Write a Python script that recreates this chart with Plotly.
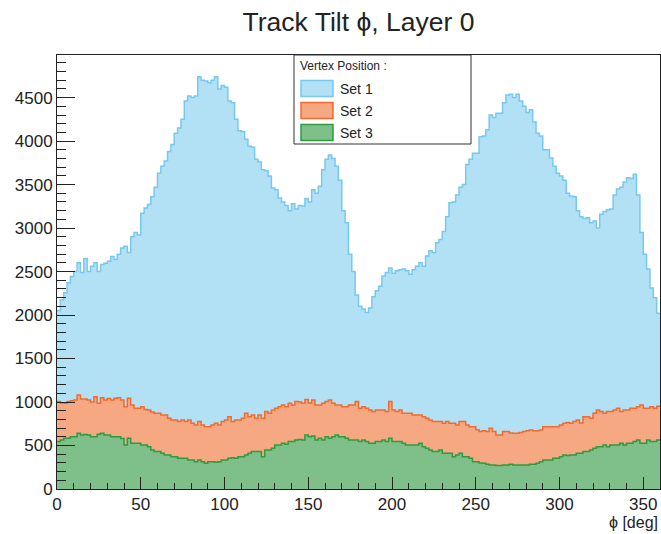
import plotly.graph_objects as go

# bin edges (2 degree bins, 0..360)
bin_edges = list(range(0, 362, 2))

set1 = [
    2050, 2175, 2255, 2370, 2443, 2500, 2600, 2490, 2650, 2500, 2560, 2600, 2500, 2580, 2597, 2620, 2673, 2640, 2700, 2770,
    2790, 2720, 2900, 2950, 2920, 3170, 3230, 3270, 3360, 3470, 3630, 3710, 3770, 3880, 3960, 4090, 4150, 4250, 4460, 4520,
    4500, 4520, 4740, 4700, 4690, 4670, 4700, 4740, 4600, 4640, 4620, 4460, 4440, 4250, 4120, 4110, 4020, 3940, 3930, 3790,
    3760, 3671, 3660, 3600, 3460, 3440, 3345, 3300, 3260, 3200, 3280, 3220, 3260, 3250, 3340, 3300, 3440, 3400, 3480, 3670,
    3790, 3840, 3800, 3710, 3550, 3200, 3060, 2700, 2500, 2230, 2100, 2070, 2030, 2080, 2210, 2280, 2330, 2450, 2490, 2540,
    2480, 2510, 2520, 2530, 2510, 2470, 2520, 2560, 2600, 2560, 2680, 2740, 2720, 2830, 2870, 2960, 3130, 3290, 3300, 3380,
    3470, 3500, 3730, 3790, 3860, 3860, 4050, 4060, 4130, 4300, 4270, 4320, 4320, 4440, 4530, 4540, 4500, 4540, 4460, 4400,
    4330, 4360, 4220, 4090, 4060, 3900, 3900, 3805, 3710, 3630, 3600, 3550, 3400, 3370, 3360, 3200, 3130, 3110, 3120, 3060,
    3080, 3000, 3160, 3190, 3210, 3220, 3380, 3450, 3470, 3530, 3580, 3570, 3620, 3380, 2950, 2700, 2530, 2310, 2200, 2020,
]

set2 = [
    1005, 990, 986, 1005, 1015, 1024, 1082, 1036, 1036, 1024, 1000, 1060, 986, 1050, 1024, 1040, 1024, 1043, 1050, 1024,
    947, 1043, 967, 928, 928, 947, 915, 909, 885, 871, 871, 852, 852, 813, 794, 794, 775, 794, 775, 794,
    756, 737, 775, 737, 715, 717, 737, 756, 737, 775, 794, 832, 775, 794, 794, 813, 871, 832, 852, 813,
    852, 813, 890, 871, 909, 928, 947, 967, 947, 986, 967, 1005, 1000, 986, 1030, 990, 1024, 967, 967, 986,
    1005, 1024, 986, 967, 967, 947, 947, 967, 967, 1005, 928, 947, 928, 909, 890, 909, 909, 909, 890, 1005,
    909, 890, 909, 871, 871, 871, 852, 852, 852, 832, 813, 794, 775, 775, 775, 756, 775, 756, 756, 737,
    775, 775, 737, 717, 717, 680, 660, 670, 660, 698, 660, 621, 620, 660, 660, 645, 641, 641, 650, 660,
    670, 679, 670, 670, 679, 717, 717, 717, 717, 717, 737, 756, 765, 756, 775, 794, 760, 832, 832, 813,
    871, 909, 890, 871, 890, 890, 909, 928, 890, 909, 909, 928, 928, 947, 967, 928, 928, 947, 928, 950,
]

set3 = [
    545, 564, 583, 583, 600, 602, 641, 621, 628, 621, 602, 602, 630, 641, 621, 621, 602, 602, 602, 580,
    506, 583, 526, 526, 526, 506, 506, 487, 449, 430, 430, 410, 391, 391, 372, 372, 353, 353, 353, 334,
    334, 314, 334, 314, 295, 314, 314, 308, 314, 334, 334, 353, 360, 353, 372, 372, 391, 410, 430, 430,
    430, 372, 449, 449, 468, 506, 506, 526, 515, 545, 545, 564, 570, 564, 621, 602, 610, 564, 583, 564,
    602, 583, 602, 621, 602, 602, 583, 564, 564, 564, 545, 564, 545, 526, 526, 545, 545, 564, 545, 583,
    545, 545, 545, 526, 506, 506, 506, 506, 526, 487, 468, 449, 430, 430, 449, 410, 410, 410, 372, 391,
    410, 372, 372, 353, 314, 314, 300, 295, 285, 276, 276, 270, 270, 276, 276, 285, 276, 276, 276, 276,
    276, 285, 285, 295, 314, 334, 334, 334, 353, 353, 372, 391, 385, 391, 391, 410, 410, 430, 430, 449,
    468, 487, 487, 506, 487, 506, 506, 506, 526, 506, 526, 526, 545, 564, 526, 526, 564, 545, 545, 564,
]

series_names = ["Set 1", "Set 2", "Set 3"]
legend_title = "Vertex Position :"
line_colors = ["#78c8ee", "#f26a30", "#2f9a40"]
fill_colors = ["#b2e1f6", "#f6a882", "#7fc08a"]

W, H = 661, 534
ML, MR, MT, MB = 57, 1, 55, 45
PW, PH = W - ML - MR, H - MT - MB


def px(x):
    return (x - ML) / PW


def py(y):
    return (H - MB - y) / PH


font_family = "Liberation Sans, Arial, sans-serif"

fig = go.Figure()
for name, vals, lc, fc in zip(series_names, [set1, set2, set3], line_colors, fill_colors):
    fig.add_trace(go.Scatter(
        x=bin_edges, y=vals + [vals[-1]], name=name, mode="lines",
        line=dict(shape="hv", color=lc, width=1.5),
        fill="tozeroy", fillcolor=fc, showlegend=False,
    ))

# legend box drawn as layout decoration (ROOT TLegend look)
shapes = [dict(type="rect", xref="paper", yref="paper",
               x0=px(294), x1=px(471), y0=py(144), y1=py(55),
               line=dict(color="#333", width=1), fillcolor="white", layer="above")]
annotations = [dict(text=legend_title, xref="paper", yref="paper", x=px(298), y=py(66),
                    xanchor="left", yanchor="middle", showarrow=False,
                    font=dict(family=font_family, size=12, color="#222"))]
for i, (name, lc, fc) in enumerate(zip(series_names, line_colors, fill_colors)):
    yc = 88.5 + 22 * i
    shapes.append(dict(type="rect", xref="paper", yref="paper",
                       x0=px(301), x1=px(333), y0=py(yc + 8), y1=py(yc - 8),
                       line=dict(color=lc, width=1.5), fillcolor=fc, layer="above"))
    annotations.append(dict(text=name, xref="paper", yref="paper", x=px(338), y=py(yc),
                            xanchor="left", yanchor="middle", showarrow=False,
                            font=dict(family=font_family, size=14, color="#222")))

annotations.append(dict(text="ϕ [deg]", x=1.0, xref="paper", xanchor="right",
                        y=py(522), yref="paper", yanchor="middle", showarrow=False,
                        font=dict(family=font_family, size=16, color="#222")))

fig.update_layout(
    width=W, height=H,
    margin=dict(l=ML, r=MR, t=MT, b=MB),
    paper_bgcolor="white", plot_bgcolor="white",
    title=dict(text="Track Tilt ϕ, Layer 0", x=0.5, xref="paper", xanchor="center",
               y=0.96, yref="container", yanchor="middle",
               font=dict(family=font_family, size=26.5, color="#222")),
    font=dict(family=font_family, color="#222"),
    showlegend=False,
    shapes=shapes,
    annotations=annotations,
)

fig.update_xaxes(
    range=[0, 360], showgrid=False, zeroline=False,
    showline=True, linecolor="#222", linewidth=1, mirror=True,
    ticks="inside", ticklen=12, tickcolor="#222", dtick=50, tick0=0,
    minor=dict(ticks="inside", ticklen=6, dtick=10, tickcolor="#222", showgrid=False),
    tickfont=dict(family=font_family, size=17, color="#222"),
)
fig.update_yaxes(
    range=[0, 4990], showgrid=False, zeroline=False,
    showline=True, linecolor="#222", linewidth=1, mirror=True,
    ticks="inside", ticklen=18, tickcolor="#222", dtick=500, tick0=0,
    minor=dict(ticks="inside", ticklen=9, dtick=100, tickcolor="#222", showgrid=False),
    tickfont=dict(family=font_family, size=17, color="#222"),
)

fig.write_html("out.html", config={"displayModeBar": False},
               post_script="document.body.style.margin='0';document.body.style.overflow='hidden';")
